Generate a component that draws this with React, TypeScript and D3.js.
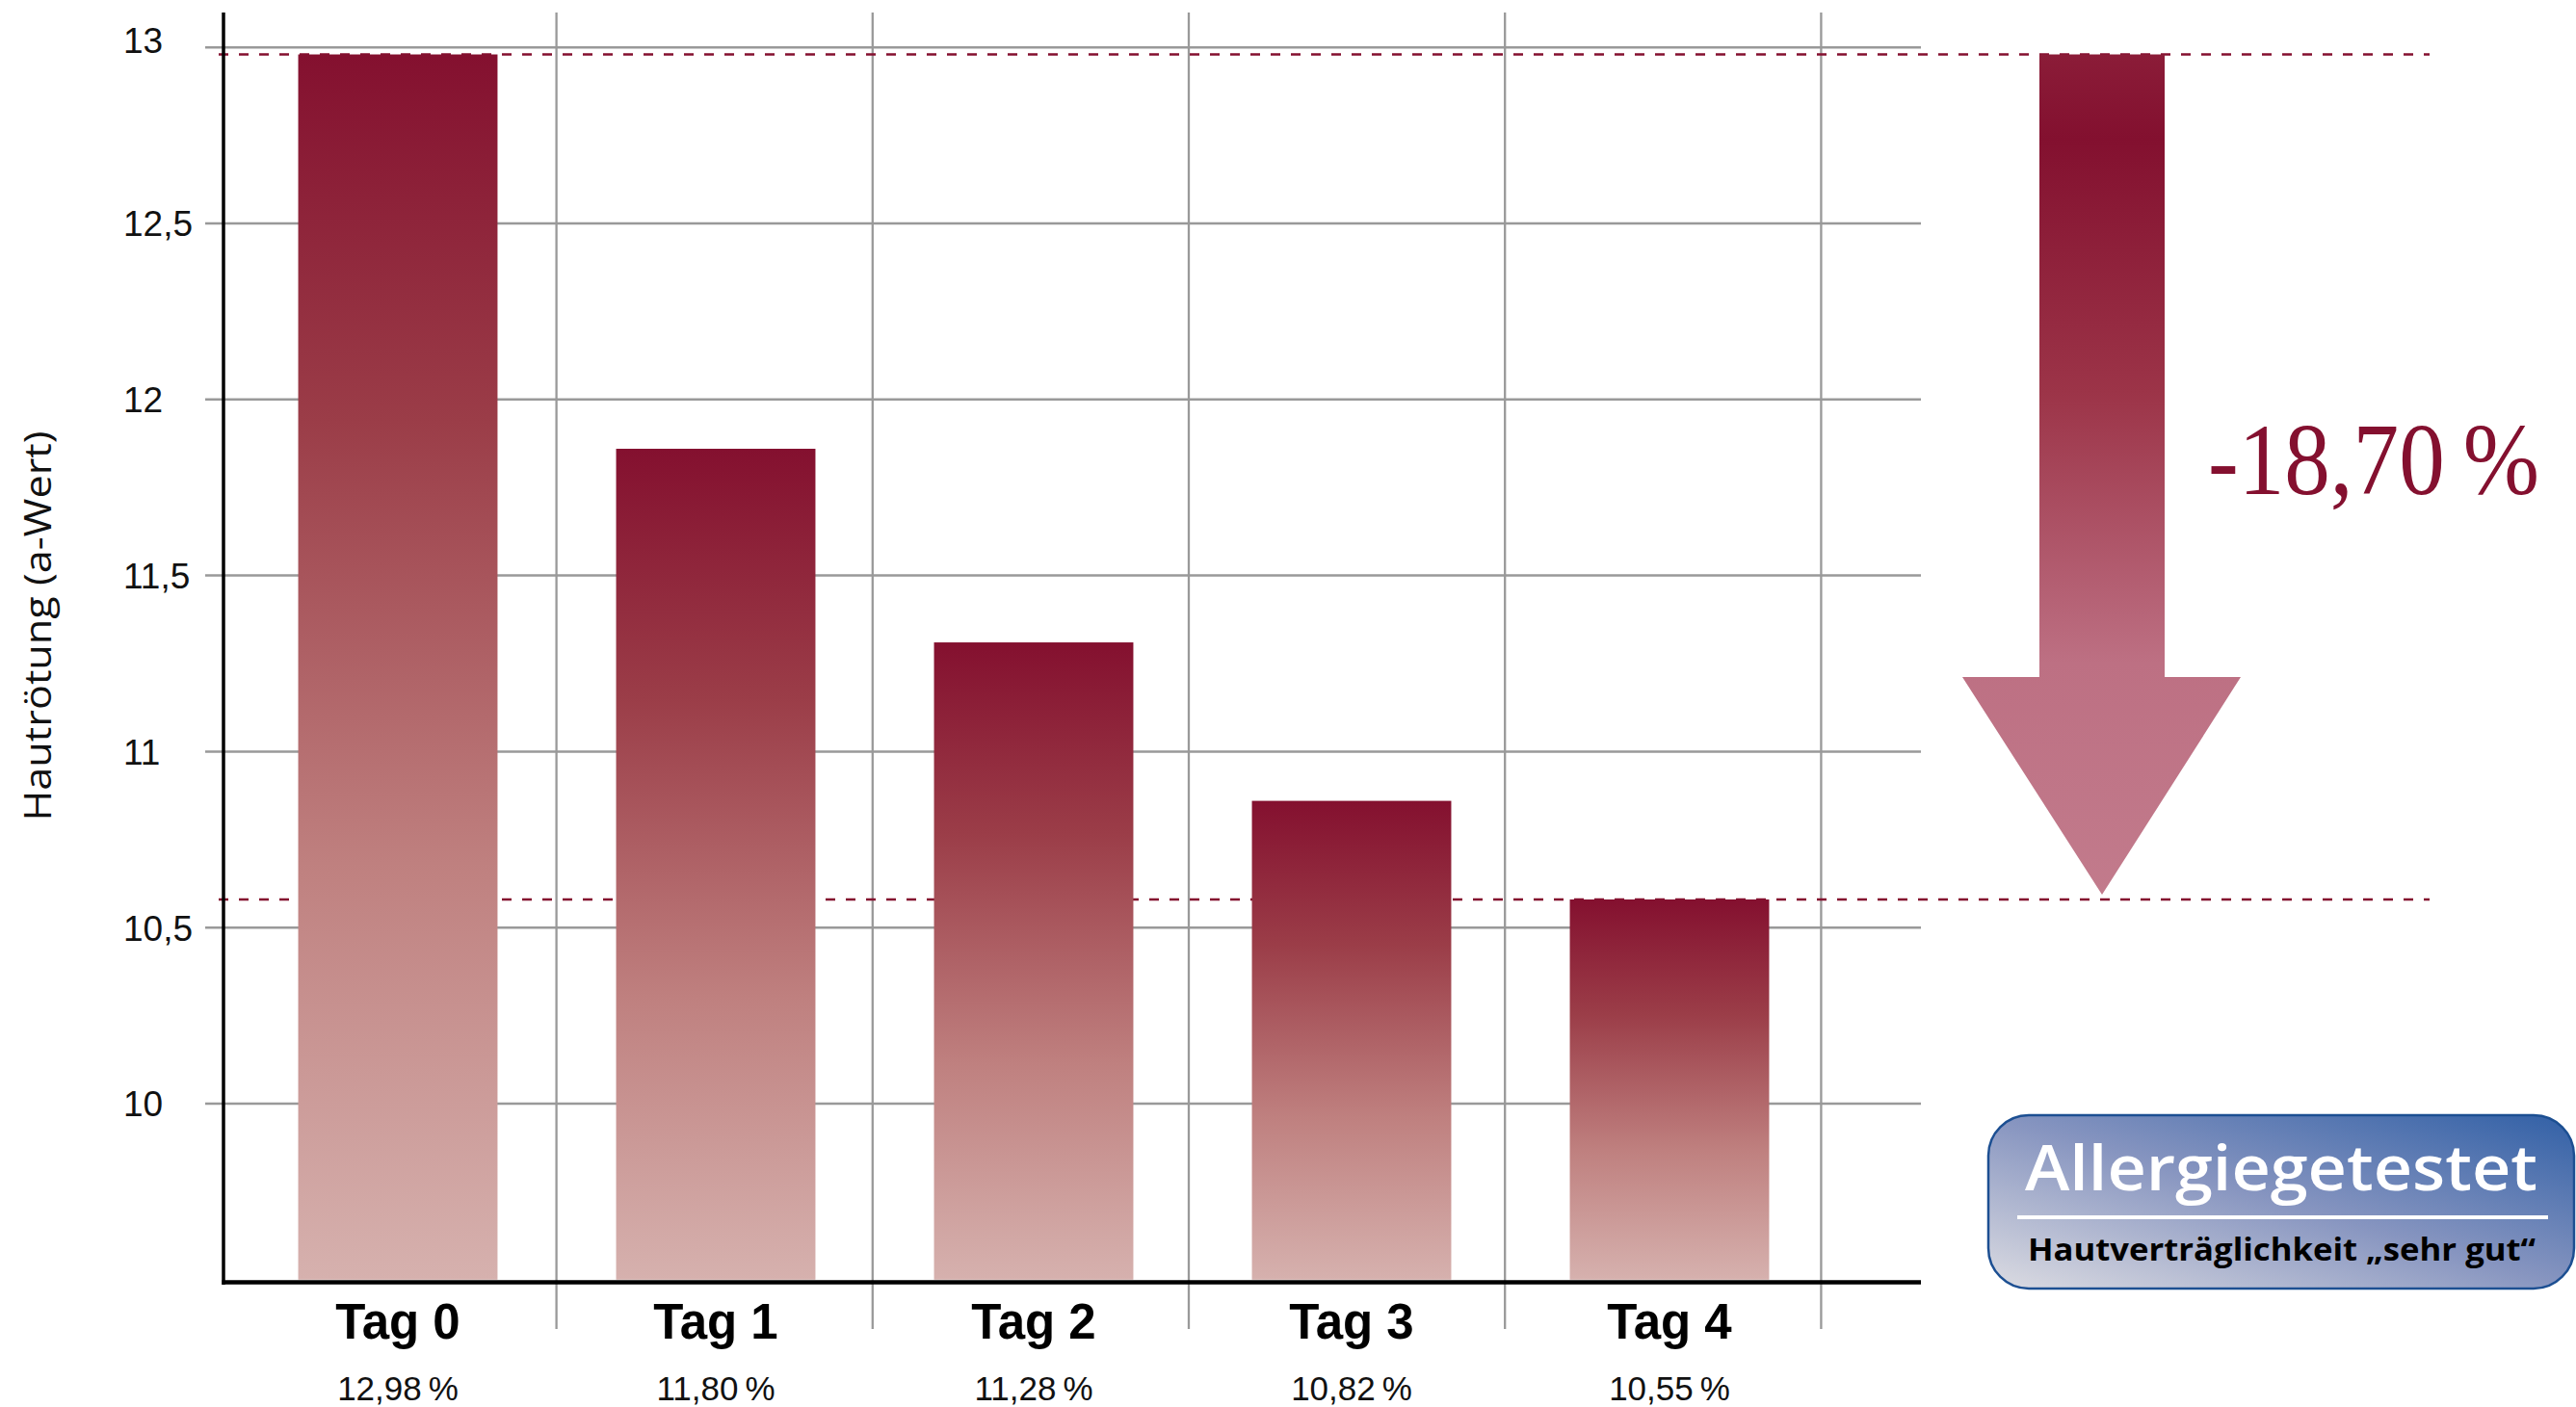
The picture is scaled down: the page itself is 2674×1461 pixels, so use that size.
import React from 'react';
import * as d3 from 'd3';

const days = ['Tag 0', 'Tag 1', 'Tag 2', 'Tag 3', 'Tag 4'];
const barValues = [12.98, 11.86, 11.31, 10.86, 10.58];
const valueLabels = ['12,98\u2009%', '11,80\u2009%', '11,28\u2009%', '10,82\u2009%', '10,55\u2009%'];
const yTicks = [10, 10.5, 11, 11.5, 12, 12.5, 13];
const yTickLabels = ['10', '10,5', '11', '11,5', '12', '12,5', '13'];
const yAxisTitle = 'Hautrötung (a-Wert)';
const changeLabel = '-18,70\u2009%';
const badgeTitle = 'Allergiegetestet';
const badgeSubtitle = 'Hautverträglichkeit „sehr gut“';

const W = 2674;
const H = 1461;

export default function App() {
  const y = d3.scaleLinear().domain([9.5, 13]).range([1328.8, 49.2]);
  const x = d3
    .scaleBand<string>()
    .domain(days)
    .range([248, 1898])
    .paddingInner(0.373)
    .paddingOuter(0.1865);
  const gridX = d3.scaleBand<string>().domain(days).range([249.4, 1890.4]);
  const bw = x.bandwidth();
  const axisX = 232;
  const baseY = y(9.5);
  const gridRight = 1994;
  const vLines = days.map((d) => (gridX(d) as number) + gridX.step());

  const topY = y(barValues[0]);
  const botY = y(barValues[barValues.length - 1]);
  const shaftL = 2117;
  const shaftR = 2247;
  const headL = 2037;
  const headR = 2326;
  const headTop = 703;
  const tipX = 2182;
  const arrowPath = d3.path();
  arrowPath.moveTo(shaftL, topY);
  arrowPath.lineTo(shaftR, topY);
  arrowPath.lineTo(shaftR, headTop);
  arrowPath.lineTo(headR, headTop);
  arrowPath.lineTo(tipX, botY - 5);
  arrowPath.lineTo(headL, headTop);
  arrowPath.lineTo(shaftL, headTop);
  arrowPath.closePath();

  const sans = "'Liberation Sans', Arial, sans-serif";
  const humanist = "'Open Sans', 'Noto Sans', sans-serif";

  return (
    <div style={{ position: 'absolute', left: 0, top: 0 }}>
      <svg width={W} height={H} style={{ display: 'block', background: '#fff' }}>
        <defs>
          <linearGradient id="barGrad" x1="0" y1="0" x2="0" y2="1">
            <stop offset="0" stopColor="#84102f" />
            <stop offset="0.3" stopColor="#9b3d48" />
            <stop offset="0.66" stopColor="#bf807f" />
            <stop offset="1" stopColor="#d6b1ae" />
          </linearGradient>
          <linearGradient id="arrowGrad" gradientUnits="userSpaceOnUse" x1="0" y1={topY} x2="0" y2={botY}>
            <stop offset="0" stopColor="#8b1c38" />
            <stop offset="0.1" stopColor="#83102f" />
            <stop offset="0.4" stopColor="#9c3448" />
            <stop offset="0.72" stopColor="#bd7083" />
            <stop offset="1" stopColor="#c27b8c" />
          </linearGradient>
          <linearGradient id="badgeGrad" x1="1" y1="0" x2="0" y2="1">
            <stop offset="0" stopColor="#3160a6" />
            <stop offset="0.5" stopColor="#8795c0" />
            <stop offset="1" stopColor="#dcdce2" />
          </linearGradient>
        </defs>

        {/* horizontal gridlines */}
        {yTicks.map((t) => (
          <line key={'h' + t} x1={213} x2={gridRight} y1={y(t)} y2={y(t)} stroke="#999" strokeWidth={2.5} />
        ))}
        {/* vertical gridlines */}
        {vLines.map((vx, i) => (
          <line key={'v' + i} x1={vx} x2={vx} y1={13} y2={1380} stroke="#999" strokeWidth={2.3} />
        ))}

        {/* reference dashed lines */}
        {[barValues[0], barValues[barValues.length - 1]].map((v, i) => (
          <line
            key={'d' + i}
            x1={227}
            x2={2522}
            y1={y(v)}
            y2={y(v)}
            stroke="#84102f"
            strokeWidth={2.5}
            strokeDasharray="10 11"
          />
        ))}

        {/* bars */}
        {days.map((d, i) => (
          <rect
            key={d}
            x={x(d)}
            y={y(barValues[i])}
            width={bw}
            height={baseY - y(barValues[i])}
            fill="url(#barGrad)"
          />
        ))}

        {/* axes */}
        <line x1={axisX} x2={axisX} y1={13} y2={1334} stroke="#000" strokeWidth={3.5} />
        <line x1={axisX - 1.5} x2={gridRight} y1={1331.5} y2={1331.5} stroke="#000" strokeWidth={4.5} />

        {/* y tick labels */}
        {yTicks.map((t, i) => (
          <text
            key={'yl' + t}
            x={128}
            y={y(t) + (t === 13 ? -8 : 0)}
            dy="0.36em"
            fontFamily={sans}
            fontSize={37}
            fill="#111"
          >
            {yTickLabels[i]}
          </text>
        ))}

        {/* y axis title */}
        <text
          transform={`translate(53, 650) rotate(-90)`}
          textAnchor="middle"
          fontFamily={humanist}
          fontSize={39}
          fill="#111"
          textLength={405}
          lengthAdjust="spacingAndGlyphs"
        >
          {yAxisTitle}
        </text>

        {/* x labels */}
        {days.map((d, i) => (
          <g key={'xl' + d}>
            <text
              x={(x(d) as number) + bw / 2}
              y={1390}
              textAnchor="middle"
              fontFamily={sans}
              fontWeight="bold"
              fontSize={51}
              fill="#000"
            >
              {d}
            </text>
            <text
              x={(x(d) as number) + bw / 2}
              y={1454}
              textAnchor="middle"
              fontFamily={sans}
              fontSize={35}
              fill="#111"
            >
              {valueLabels[i]}
            </text>
          </g>
        ))}

        {/* arrow */}
        <path d={arrowPath.toString()} fill="url(#arrowGrad)" />
        <text
          x={2292}
          y={513}
          fontFamily="'Liberation Serif', 'DejaVu Serif', serif"
          fontSize={106}
          fill="#84102f"
          textLength={344}
          lengthAdjust="spacingAndGlyphs"
        >
          {changeLabel}
        </text>

        {/* badge */}
        <rect
          x={2064}
          y={1158}
          width={608}
          height={180}
          rx={42}
          ry={42}
          fill="url(#badgeGrad)"
          stroke="#1c4f92"
          strokeWidth={2.5}
        />
        <text
          x={2102}
          y={1236}
          fontFamily={humanist}
          fontWeight={600}
          fontSize={66}
          fill="#fff"
          textLength={532}
          lengthAdjust="spacingAndGlyphs"
        >
          {badgeTitle}
        </text>
        <line x1={2094} x2={2645} y1={1264} y2={1264} stroke="#fff" strokeWidth={4} />
        <text
          x={2105}
          y={1309}
          fontFamily={humanist}
          fontWeight="bold"
          fontSize={33}
          fill="#000"
          textLength={527}
          lengthAdjust="spacingAndGlyphs"
        >
          {badgeSubtitle}
        </text>
      </svg>
    </div>
  );
}
